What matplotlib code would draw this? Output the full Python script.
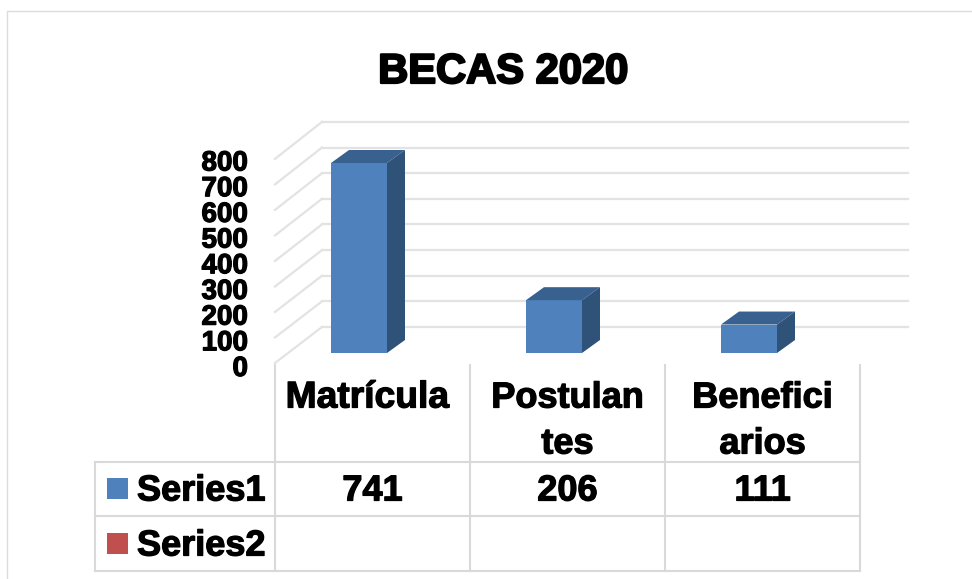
import matplotlib
matplotlib.use("Agg")
import matplotlib.pyplot as plt
import matplotlib.patheffects as pe
from matplotlib.patches import Polygon, Rectangle

# Data
title = "BECAS 2020"
categories = ["Matrícula", "Postulan\ntes", "Benefici\narios"]
series_names = ["Series1", "Series2"]
series1 = [741, 206, 111]
series2 = [None, None, None]
y_ticks = [0, 100, 200, 300, 400, 500, 600, 700, 800]

W, H = 972, 579
BLUE = "#4f81bd"
RED = "#c0504d"
TOP = "#38618f"
SIDE = "#2f5279"
GRID = "#e3e3e3"
TABLE = "#d9d9d9"

plt.rcParams["font.family"] = ["Liberation Sans", "DejaVu Sans"]
plt.rcParams["font.weight"] = "bold"

fig = plt.figure(figsize=(W / 100, H / 100), dpi=100, facecolor="white")

# pixel layer for the frame and the table
pix = fig.add_axes([0, 0, 1, 1], zorder=1)
pix.set_xlim(0, W)
pix.set_ylim(H, 0)
pix.axis("off")

# data layer, categories 0,1,2 are 195 px apart, value 0 sits on the bar base
px_per_cat = 195
px_per_val = 190 / 741
base_y = 353
cat0_x = 359
ax = fig.add_axes([0, 0, 1, 1], zorder=2)
ax.set_xlim((0 - cat0_x) / px_per_cat, (W - cat0_x) / px_per_cat)
ax.set_ylim((base_y - H) / px_per_val, base_y / px_per_val)
ax.axis("off")
ax.patch.set_alpha(0)


def dx(p):
    return p / px_per_cat


def dy(p):
    return p / px_per_val


# outer frame
pix.plot([7, 7, W], [H, 11, 11], color="#dcdcdc", lw=1)

# back wall and left wall gridlines
wall_left = (275 - cat0_x) / px_per_cat
wall_back = (322 - cat0_x) / px_per_cat
wall_right = (908 - cat0_x) / px_per_cat
for v in y_ticks:
    yb = v + dy(26)
    yf = v * 203 / 204 - dy(10)
    ax.plot([wall_left, wall_back], [yf, yb], color=GRID, lw=1.6, zorder=1)
    ax.plot([wall_back, wall_right], [yb, yb], color=GRID, lw=1.6, zorder=1)

# 3d columns
bar_w = 56 / px_per_cat
for i, v in enumerate(series1):
    x0, x1 = i - bar_w / 2, i + bar_w / 2
    d_x, d_y = dx(18), dy(13)
    ax.bar(i, v, width=bar_w, color=BLUE, zorder=3)
    ax.add_patch(Polygon([(x0, v), (x0 + d_x, v + d_y), (x1 + d_x, v + d_y), (x1, v)],
                         color=TOP, zorder=3, lw=0))
    ax.add_patch(Polygon([(x1, 0), (x1 + d_x, d_y), (x1 + d_x, v + d_y), (x1, v)],
                         color=SIDE, zorder=3, lw=0))


def label(x, y, s, size, ha="center", stroke=0.9):
    pix.text(x, y + 3, s, fontsize=size, ha=ha, va="center", color="black",
             fontweight="bold", zorder=5,
             path_effects=[pe.withStroke(linewidth=stroke, foreground="black")])


label(503, 69, title, 30, stroke=1.6)

for v in y_ticks:
    label(248, 366 - v * 205.5 / 800, str(v), 20, ha="right")

# table lines
for y in [462, 516, 571]:
    pix.plot([95, 860], [y, y], color=TABLE, lw=1.5, zorder=2)
pix.plot([95, 95], [462, 571], color=TABLE, lw=1.5, zorder=2)
for x in [275, 470, 665, 860]:
    pix.plot([x, x], [365, 571], color=TABLE, lw=1.5, zorder=2)

# category labels and table values
label_shift = [-5, 0, 0]
label_size = [26.8, 26, 26]
for i, c in enumerate(categories):
    cx = 372.5 + i * px_per_cat
    for j, part in enumerate(c.split("\n")):
        label(cx + label_shift[i], 395 + j * 46, part, label_size[i])
    label(cx, 488, str(series1[i]), 26)
    if series2[i] is not None:
        label(cx, 542, str(series2[i]), 26)

# legend keys inside the table
for name, color, y in zip(series_names, [BLUE, RED], [488, 543]):
    pix.add_patch(Rectangle((107, y - 10.5), 21, 21, color=color, lw=0, zorder=3))
    label(137, y, name, 26, ha="left")

fig.savefig("out.png", dpi=100)
plt.close(fig)
